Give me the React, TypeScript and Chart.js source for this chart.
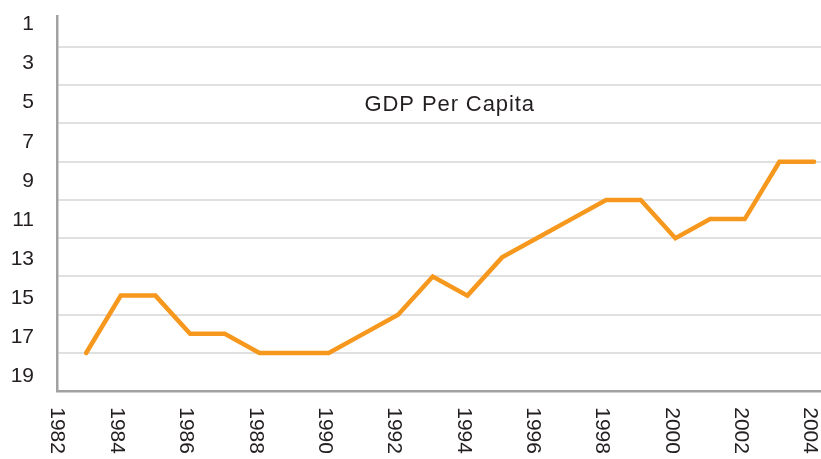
import React, { useEffect, useRef } from "react";
import { Chart, registerables } from "chart.js";

Chart.register(...registerables);

const years = [1983, 1984, 1985, 1986, 1987, 1988, 1989, 1990, 1991, 1992, 1993, 1994, 1995, 1996, 1997, 1998, 1999, 2000, 2001, 2002, 2003, 2004];
const gdpRank = [18, 15, 15, 17, 17, 18, 18, 18, 17, 16, 14, 15, 13, 12, 11, 10, 10, 12, 11, 11, 8, 8];
const xTickLabels = [1982, 1984, 1986, 1988, 1990, 1992, 1994, 1996, 1998, 2000, 2002, 2004];
const yTickLabels = [1, 3, 5, 7, 9, 11, 13, 15, 17, 19];
const gridValues = [2, 4, 6, 8, 10, 12, 14, 16, 18, 20];
const titleText = "GDP Per Capita";

const TEXT = "#231f20";
const FONT = "'Liberation Sans', Arial, Helvetica, sans-serif";

const overlayPlugin = {
  id: "overlay",
  afterDraw(chart: any) {
    const { ctx, chartArea, scales } = chart;
    const xs = scales.x;
    ctx.save();
    // x tick labels, rotated clockwise
    ctx.font = `21px ${FONT}`;
    ctx.fillStyle = TEXT;
    ctx.textAlign = "left";
    ctx.textBaseline = "middle";
    xTickLabels.forEach((yr) => {
      const px = Math.max(xs.getPixelForValue(yr) - 4, chartArea.left);
      ctx.save();
      ctx.translate(px, chartArea.bottom + 16);
      ctx.rotate(Math.PI / 2);
      ctx.fillText(String(yr), 0, 0);
      ctx.restore();
    });
    // title inside the plot
    ctx.font = `22px ${FONT}`;
    (ctx as any).letterSpacing = "0.9px";
    ctx.textAlign = "center";
    ctx.textBaseline = "alphabetic";
    const tx = chartArea.left + (chartArea.right - chartArea.left) * 0.514;
    ctx.fillText(titleText, tx, chartArea.top + 94.5);
    ctx.restore();
  },
};

export default function App() {
  const ref = useRef<HTMLCanvasElement | null>(null);
  useEffect(() => {
    if (!ref.current) return;
    const chart = new Chart(ref.current, {
      type: "line",
      data: {
        labels: years,
        datasets: [
          {
            label: titleText,
            data: years.map((y, i) => ({ x: y, y: gdpRank[i] })),
            borderColor: "#F7981E",
            borderWidth: 4.5,
            borderCapStyle: "round",
            borderJoinStyle: "miter",
            pointRadius: 0,
            tension: 0,
            fill: false,
            yAxisID: "y",
            xAxisID: "x",
          },
        ],
      },
      options: {
        animation: false,
        responsive: false,
        layout: { padding: { top: 16, right: 0, left: 0, bottom: 0 } },
        plugins: { legend: { display: false }, tooltip: { enabled: false }, title: { display: false } },
        scales: {
          x: {
            type: "linear",
            min: 1982.16,
            max: 2004.2,
            grid: { display: false },
            border: { display: true, color: "#a2a2a2", width: 2.5 },
            ticks: { display: false },
            afterFit: (s: any) => {
              s.height = 67.75;
              s.paddingLeft = 0;
              s.paddingRight = 0;
            },
          },
          y: {
            type: "linear",
            position: "left",
            weight: 0,
            reverse: true,
            min: 0.38,
            max: 20,
            grid: { display: true, color: "#e0e0e0", lineWidth: 2, drawTicks: false },
            border: { display: true, color: "#a2a2a2", width: 2.5 },
            ticks: { display: false },
            afterBuildTicks: (s: any) => {
              s.ticks = gridValues.map((v) => ({ value: v }));
            },
            afterFit: (s: any) => {
              s.width = 0;
              s.paddingTop = 0;
              s.paddingBottom = 0;
            },
          },
          y2: {
            type: "linear",
            position: "left",
            weight: 1,
            reverse: true,
            min: 0.58,
            max: 19.745,
            grid: { display: false, drawTicks: false },
            border: { display: false },
            ticks: {
              autoSkip: false,
              padding: 23,
              color: TEXT,
              font: { size: 21, family: FONT },
            },
            afterBuildTicks: (s: any) => {
              s.ticks = yTickLabels.map((v) => ({ value: v }));
            },
            afterFit: (s: any) => {
              s.width = 57;
              s.paddingTop = 0;
              s.paddingBottom = 0;
            },
          },
        },
      } as any,
      plugins: [overlayPlugin],
    });
    return () => chart.destroy();
  }, []);
  return (
    <div style={{ position: "fixed", left: 0, top: 0, width: 821, height: 459, background: "#fff" }}>
      <canvas ref={ref} width={821} height={459} style={{ display: "block" }} />
    </div>
  );
}
